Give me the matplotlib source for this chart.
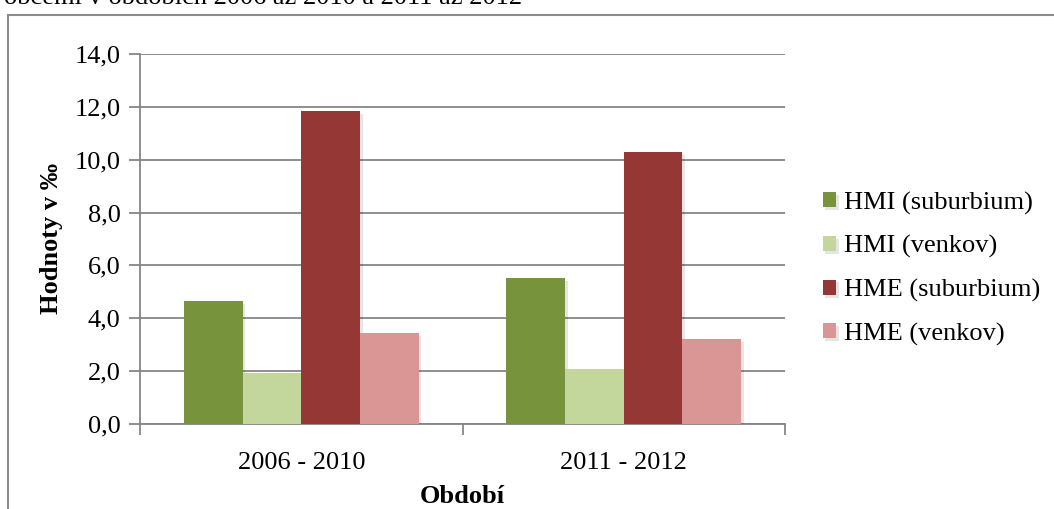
import matplotlib
matplotlib.use("Agg")
import matplotlib.pyplot as plt
import matplotlib.patches as mpatches
import matplotlib.patheffects as pe
import numpy as np

categories = ["2006 - 2010", "2011 - 2012"]
series_names = ["HMI (suburbium)", "HMI (venkov)", "HME (suburbium)", "HME (venkov)"]
hmi_suburbium = [4.66, 5.52]
hmi_venkov = [1.94, 2.09]
hme_suburbium = [11.84, 10.29]
hme_venkov = [3.43, 3.22]
series_values = [hmi_suburbium, hmi_venkov, hme_suburbium, hme_venkov]
colors = ["#77933C", "#C3D69B", "#953735", "#D99694"]
yticks = [0, 2, 4, 6, 8, 10, 12, 14]
top_text = "obcemi v obdobích 2006 až 2010 a 2011 až 2012"

plt.rcParams['font.family'] = ['Liberation Serif', 'DejaVu Serif']
FS = 19

W, H = 1054, 509
fig = plt.figure(figsize=(W / 100, H / 100), dpi=100)

# outer frame
frame = mpatches.Rectangle((8 / W, -0.1), 1.2, (H - 15) / H + 0.1, transform=fig.transFigure,
                           fill=False, edgecolor="#8c8c8c", linewidth=1.5)
fig.add_artist(frame)

# caption at top (clipped by the page edge, as in the reference)
fig.text(4 / W, 1 - 4 / H, top_text, fontsize=FS, ha="left", va="baseline", color="black")

ax = fig.add_axes([140 / W, 1 - 424 / H, (785 - 140) / W, (424 - 54) / H])
x = np.arange(len(categories))
bw = 0.182
shadow = [pe.SimplePatchShadow(offset=(2, -2), shadow_rgbFace="#000000", alpha=0.10), pe.Normal()]
for i, (vals, name, col) in enumerate(zip(series_values, series_names, colors)):
    ax.bar(x + (i - 1.5) * bw, vals, width=bw, color=col, label=name, zorder=3,
           path_effects=shadow)

ax.set_xlim(-0.5, 1.5)
ax.set_ylim(0, 14)
ax.set_yticks(yticks)
ax.set_yticklabels([f"{v:.1f}".replace(".", ",") for v in yticks], fontsize=FS)
ax.yaxis.grid(True, color="#868686", linewidth=1.3, zorder=0)
ax.set_axisbelow(True)

ax.set_xticks(x)
ax.set_xticklabels(categories, fontsize=FS)
ax.tick_params(axis="x", length=0, pad=20)
ax.set_xticks([-0.5, 0.5, 1.5], minor=True)
ax.tick_params(axis="x", which="minor", length=8, color="#868686", width=1.3, direction="out")
ax.tick_params(axis="y", length=8, color="#868686", width=1.3, direction="out", pad=6)

for s in ["top", "right"]:
    ax.spines[s].set_visible(False)
for s in ["left", "bottom"]:
    ax.spines[s].set_color("#868686")
    ax.spines[s].set_linewidth(1.3)

ax.set_ylabel("Hodnoty v ‰", fontsize=FS, fontweight="bold", labelpad=8)
ax.set_xlabel("Období", fontsize=FS, fontweight="bold", labelpad=8)

leg = ax.legend(loc="upper left", bbox_to_anchor=(812 / W, 1 - 181 / H), bbox_transform=fig.transFigure,
                frameon=False, fontsize=FS, handlelength=0.5, handleheight=0.5,
                handletextpad=0.3, labelspacing=0.78, borderaxespad=0)

fig.savefig("out.png", dpi=100, facecolor="white")
